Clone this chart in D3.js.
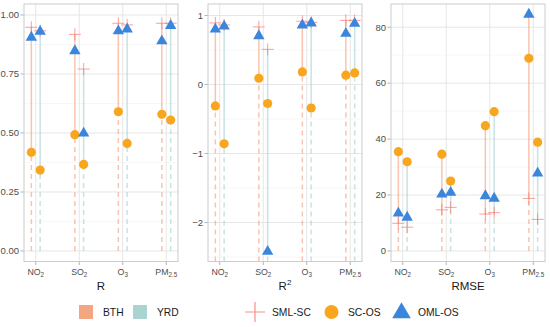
<!DOCTYPE html>
<html><head><meta charset="utf-8">
<script src="https://cdn.jsdelivr.net/npm/d3@7"></script>
<style>body{margin:0;background:#fff}svg{display:block;font-family:"Liberation Sans",Arial,sans-serif}</style>
</head><body><svg id="c" width="550" height="327"></svg>
<script>
const pollutants = ["NO2","SO2","O3","PM2.5"];
const pollutantMain = ["NO","SO","O","PM"];
const pollutantSub = ["2","2","3","2.5"];
const regions = ["BTH","YRD"];
const metrics = ["R","R2","RMSE"];
const methods = ["SML-SC","SC-OS","OML-OS"];
// order: NO2-BTH, NO2-YRD, SO2-BTH, SO2-YRD, O3-BTH, O3-YRD, PM2.5-BTH, PM2.5-YRD
const R_SMLSC = [0.948,0.933,0.918,0.771,0.965,0.958,0.965,0.965];
const R_SCOS  = [0.418,0.343,0.493,0.367,0.590,0.456,0.579,0.555];
const R_OMLOS = [0.905,0.930,0.848,0.499,0.932,0.940,0.890,0.955];
const R2_SMLSC = [0.893,0.864,0.835,0.510,0.917,0.900,0.930,0.930];
const R2_SCOS  = [-0.31,-0.86,0.091,-0.275,0.183,-0.34,0.135,0.168];
const R2_OMLOS = [0.800,0.845,0.705,-2.42,0.860,0.890,0.740,0.885];
const RMSE_SMLSC = [9.9,8.5,14.7,15.6,13.2,13.7,18.8,11.3];
const RMSE_SCOS  = [35.5,31.9,34.6,25.0,44.8,49.8,68.9,38.9];
const RMSE_OMLOS = [13.5,12.0,20.3,20.9,19.7,18.8,84.6,27.8];
const yDomains = [[-0.0445,1.0466],[-2.565,1.167],[-3.76,88.3]];
const yTicks = [[0,0.25,0.5,0.75,1],[-2,-1,0,1],[0,20,40,60,80]];
const yMinor = [[0.125,0.375,0.625,0.875],[-2.5,-1.5,-0.5,0.5],[10,30,50,70]];
const yFormats = [d3.format(".2f"), d3.format("d"), d3.format("d")];
const baselines = [0, null, 0];

const metricData = [
  [R_SMLSC, R_SCOS, R_OMLOS],
  [R2_SMLSC, R2_SCOS, R2_OMLOS],
  [RMSE_SMLSC, RMSE_SCOS, RMSE_OMLOS]
];
const panelsX = [[24,178],[208,362],[391,545]];
const pTop = 4, pBottom = 261.5;
const regionColor = {BTH:"#F4A582", YRD:"#A9D4D2"};
const methodColor = {"SML-SC":"#F8766D","SC-OS":"#F9A61F","OML-OS":"#3B86DC"};

const svg = d3.select("#c");

metrics.forEach((m, mi) => {
  const [x0, x1] = panelsX[mi];
  const x = d3.scalePoint().domain(pollutants).range([x0, x1]).padding(0.27);
  const dodge = d3.scalePoint().domain(regions).range([-4.4, 4.4]);
  const y = d3.scaleLinear().domain(yDomains[mi]).range([pBottom, pTop]);
  const g = svg.append("g");
  g.append("rect").attr("x", x0).attr("y", pTop).attr("width", x1-x0).attr("height", pBottom-pTop).attr("fill","#fff");
  g.selectAll(".mn").data(yMinor[mi]).join("line").attr("x1",x0).attr("x2",x1)
    .attr("y1",d=>y(d)).attr("y2",d=>y(d)).attr("stroke","#f2f2f2").attr("stroke-width",0.6);
  g.selectAll(".mj").data(yTicks[mi]).join("line").attr("x1",x0).attr("x2",x1)
    .attr("y1",d=>y(d)).attr("y2",d=>y(d)).attr("stroke","#e6e6e6").attr("stroke-width",1);
  g.selectAll(".vx").data(pollutants).join("line").attr("x1",d=>x(d)).attr("x2",d=>x(d))
    .attr("y1",pTop).attr("y2",pBottom).attr("stroke","#e6e6e6").attr("stroke-width",1);
  g.selectAll(".yt").data(yTicks[mi]).join("line").attr("x1",x0-3.5).attr("x2",x0)
    .attr("y1",d=>y(d)).attr("y2",d=>y(d)).attr("stroke","#b3b3b3");
  g.selectAll(".yl").data(yTicks[mi]).join("text").attr("x",x0-5).attr("y",d=>y(d)).attr("dy","0.35em")
    .attr("text-anchor","end").attr("font-size",9.5).attr("fill","#4d4d4d").text(d=>yFormats[mi](d));
  g.selectAll(".xt").data(pollutants).join("line").attr("x1",d=>x(d)).attr("x2",d=>x(d))
    .attr("y1",pBottom).attr("y2",pBottom+3.5).attr("stroke","#b3b3b3");
  const xl = g.selectAll(".xl").data(pollutants).join("text").attr("x",d=>x(d)).attr("y",pBottom+13)
    .attr("text-anchor","middle").attr("font-size",8.8).attr("fill","#4d4d4d");
  xl.append("tspan").text((d,i)=>pollutantMain[i]);
  xl.append("tspan").attr("font-size",6.3).attr("dy",2.5).text((d,i)=>pollutantSub[i]);
  const ft = g.append("text").attr("x",(x0+x1)/2).attr("y",290).attr("text-anchor","middle")
    .attr("font-size",11.5).attr("fill","#1a1a1a");
  if (m === "R2") { ft.append("tspan").text("R"); ft.append("tspan").attr("font-size",8).attr("dy",-5).text("2"); }
  else ft.text(m);

  const rows = [];
  pollutants.forEach((p, pi) => regions.forEach((r, ri) => {
    const k = pi*2 + ri;
    const vals = metricData[mi].map(arr => arr[k]);
    rows.push({p, r, vals, lo: d3.min(vals), hi: d3.max(vals)});
  }));
  const base = baselines[mi] === null ? y.domain()[0] : baselines[mi];
  const px = d => x(d.p) + dodge(d.r);
  g.selectAll(".dl").data(rows).join("line").attr("x1",px).attr("x2",px)
    .attr("y1",y(base)).attr("y2",d=>y(d.lo)).attr("stroke",d=>regionColor[d.r])
    .attr("stroke-opacity",0.65).attr("stroke-width",1.5).attr("stroke-dasharray","5,4");
  g.selectAll(".sl").data(rows).join("line").attr("x1",px).attr("x2",px)
    .attr("y1",d=>y(d.lo)).attr("y2",d=>y(d.hi)).attr("stroke",d=>regionColor[d.r])
    .attr("stroke-opacity",0.65).attr("stroke-width",1.5);
  g.selectAll(".cr").data(rows).join("path")
    .attr("d", d => `M${px(d)-6},${y(d.vals[0])}h12M${px(d)},${y(d.vals[0])-6}v12`)
    .attr("stroke", methodColor["SML-SC"]).attr("stroke-opacity",0.7).attr("stroke-width",1).attr("fill","none");
  g.selectAll(".ci").data(rows).join("circle").attr("cx",px).attr("cy",d=>y(d.vals[1])).attr("r",4.6)
    .attr("fill",methodColor["SC-OS"]);
  const tri = d3.symbol().type(d3.symbolTriangle).size(56);
  g.selectAll(".tr").data(rows).join("path").attr("d",tri)
    .attr("transform",d=>`translate(${px(d)},${y(d.vals[2])})`).attr("fill",methodColor["OML-OS"]);
  g.append("rect").attr("x", x0).attr("y", pTop).attr("width", x1-x0).attr("height", pBottom-pTop)
    .attr("fill","none").attr("stroke","#cccccc").attr("stroke-width",1);
});

const ly = 312;
const lg = svg.append("g");
const regLeg = [{k:"BTH",x:79},{k:"YRD",x:133}];
const lfs = 10.3;
regLeg.forEach(d => {
  lg.append("rect").attr("x",d.x).attr("y",ly-7).attr("width",14).attr("height",14).attr("fill",regionColor[d.k]);
  lg.append("text").attr("x",d.x+24).attr("y",ly).attr("dy","0.35em").attr("font-size",lfs).attr("fill","#1a1a1a").text(d.k);
});
lg.append("path").attr("d",`M245,${ly}h20M255,${ly-10}v20`).attr("stroke",methodColor["SML-SC"]).attr("stroke-opacity",0.8).attr("stroke-width",1.2);
lg.append("text").attr("x",272).attr("y",ly).attr("dy","0.35em").attr("font-size",lfs).attr("fill","#1a1a1a").text(methods[0]);
lg.append("circle").attr("cx",331.5).attr("cy",ly).attr("r",7).attr("fill",methodColor["SC-OS"]);
lg.append("text").attr("x",348).attr("y",ly).attr("dy","0.35em").attr("font-size",lfs).attr("fill","#1a1a1a").text(methods[1]);
lg.append("path").attr("d",d3.symbol().type(d3.symbolTriangle).size(150)).attr("transform",`translate(401.5,${ly+1})`).attr("fill",methodColor["OML-OS"]);
lg.append("text").attr("x",418).attr("y",ly).attr("dy","0.35em").attr("font-size",lfs).attr("fill","#1a1a1a").text(methods[2]);
</script></body></html>
